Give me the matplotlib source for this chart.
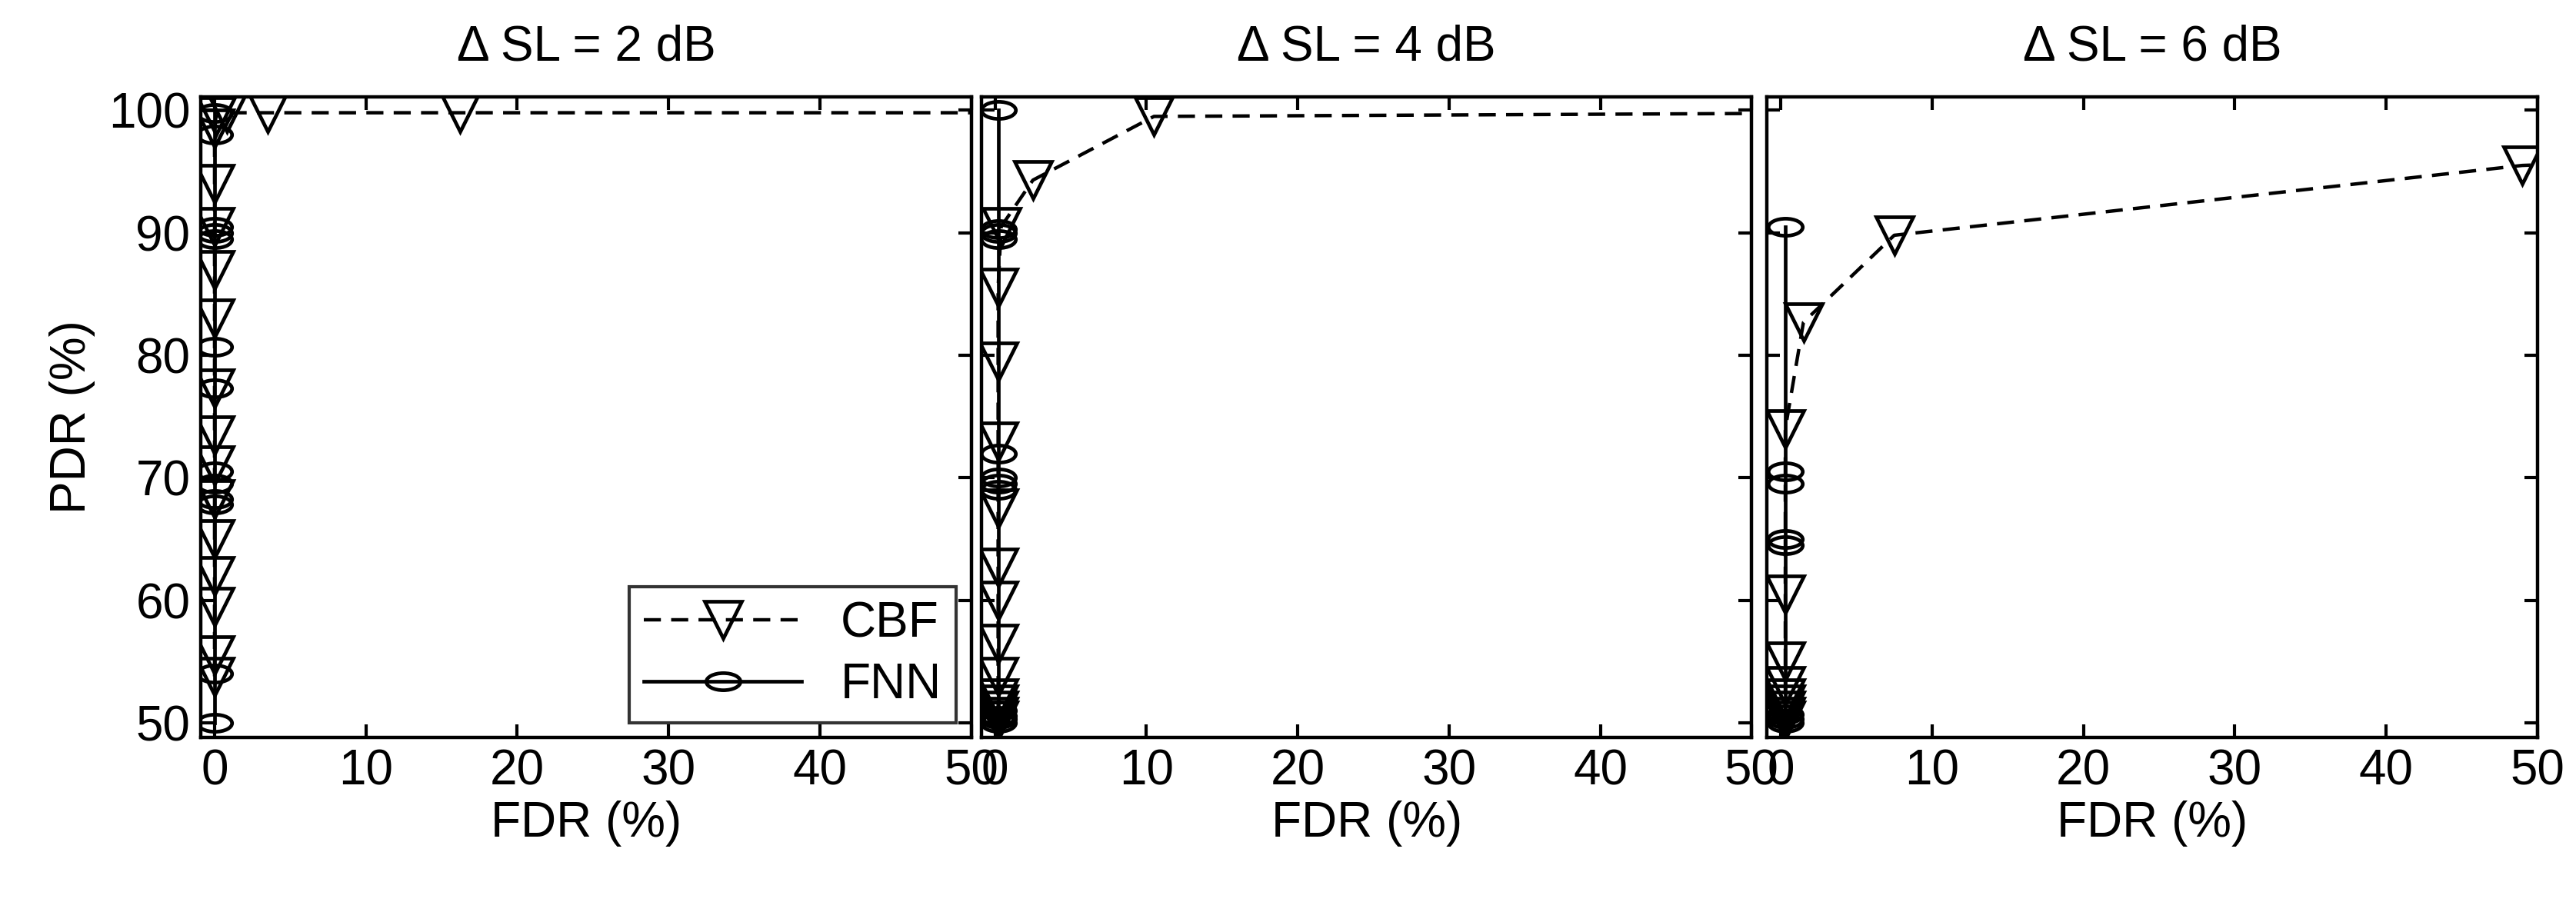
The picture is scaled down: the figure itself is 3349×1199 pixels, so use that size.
import numpy as np
import matplotlib.pyplot as plt
from matplotlib.path import Path
from matplotlib.transforms import Affine2D

plt.rcParams['font.family'] = ['Liberation Sans', 'DejaVu Sans']

titles = ['\u0394 SL = 2 dB', '\u0394 SL = 4 dB', '\u0394 SL = 6 dB']

# CBF curves (FDR %, PDR %); last point lies past the axis edge
cbf_fdr = [
    [0, 0, 0, 0, 0, 0, 0, 0, 0, 0, 0, 0, 0, 0, 0.1, 0.8, 3.5, 16.2, 60],
    [0.2, 0.2, 0.2, 0.2, 0.2, 0.2, 0.2, 0.2, 0.2, 0.2, 0.2, 0.2, 0.2, 0.4, 2.5, 10.5, 60],
    [0.3, 0.3, 0.3, 0.3, 0.3, 0.3, 0.3, 0.3, 0.3, 1.5, 7.5, 49.0, 60],
]
cbf_pdr = [
    [53.8, 55.5, 59.5, 62.0, 65.0, 68.3, 71.0, 73.5, 77.3, 83.0, 87.0, 90.5, 94.0, 98.5, 99.5, 99.8, 99.8, 99.8, 99.8],
    [50.2, 50.5, 51.0, 51.5, 52.0, 53.8, 56.5, 60.0, 62.7, 67.5, 73.0, 79.5, 85.5, 90.5, 94.3, 99.5, 99.8],
    [50.2, 50.5, 51.0, 51.5, 52.0, 53.0, 55.0, 60.5, 74.0, 82.7, 89.8, 95.5, 96.0],
]
fnn_fdr = [
    [0.0] * 13,
    [0.2] * 12,
    [0.3] * 8,
]
fnn_pdr = [
    [50.0, 54.0, 67.8, 68.3, 69.5, 70.5, 77.3, 80.7, 89.5, 90.0, 90.5, 98.0, 99.8],
    [50.0, 50.3, 50.6, 51.0, 69.0, 69.5, 70.0, 72.0, 89.5, 90.0, 90.3, 100.0],
    [50.0, 50.3, 50.7, 64.5, 65.0, 69.5, 70.5, 90.5],
]

# squashed circle marker, like the original
circ = Path.unit_circle()
ellipse = circ.transformed(Affine2D().scale(1.0, 0.5))

fig = plt.figure(figsize=(33.49, 11.99), dpi=100)
lefts = [0.078, 0.381, 0.686]
width = 0.299
for i in range(3):
    ax = fig.add_axes([lefts[i], 0.20, width, 0.695])
    ax.plot(cbf_fdr[i], cbf_pdr[i], color='black', ls=(0, (5, 3)), lw=3.2,
            marker='v', ms=34, mfc='none', mew=3.4, label='CBF')
    ax.plot(fnn_fdr[i], fnn_pdr[i], color='black', ls='-', lw=3.4,
            marker=ellipse, ms=32, mfc='none', mew=3.4, label='FNN')
    ax.set_xlim(-0.9, 50)
    ax.set_ylim(48.8, 101.1)
    ax.set_xticks([0, 10, 20, 30, 40, 50])
    ax.set_yticks([50, 60, 70, 80, 90, 100])
    ax.tick_params(direction='in', top=True, right=True, length=12, width=3,
                   labelsize=46, pad=10)
    for s in ax.spines.values():
        s.set_linewidth(3.2)
    ax.set_title(titles[i], fontsize=46, pad=34)
    ax.set_xlabel('FDR (%)', fontsize=46, labelpad=6)
    if i == 0:
        ax.set_ylabel('PDR (%)', fontsize=46, labelpad=12)
        leg = ax.legend(loc='lower right', fontsize=46, frameon=True, fancybox=False,
                        edgecolor='black', handlelength=3.2, borderaxespad=0.3,
                        borderpad=0.3, labelspacing=0.3)
        leg.get_frame().set_linewidth(3)
    else:
        ax.set_yticklabels([])

fig.savefig('out.png', dpi=100)
